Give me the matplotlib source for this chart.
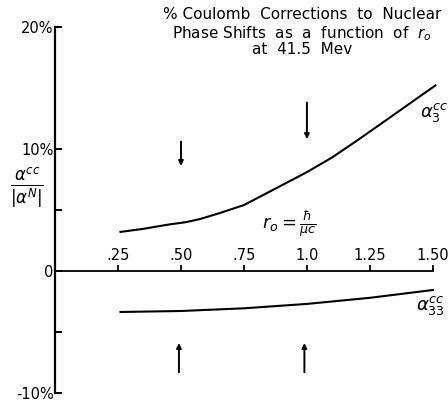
import matplotlib
matplotlib.use("Agg")
import matplotlib.pyplot as plt

# Coulomb correction curves (percent) versus r0
r0_alpha3 = [0.26, 0.35, 0.45, 0.52, 0.575, 0.655, 0.75, 0.88, 1.0, 1.1, 1.2, 1.29, 1.4, 1.51]
pct_alpha3 = [3.2, 3.45, 3.8, 4.0, 4.25, 4.75, 5.4, 6.8, 8.1, 9.3, 10.7, 12.0, 13.6, 15.2]

r0_alpha33 = [0.26, 0.5, 0.75, 1.0, 1.25, 1.5]
pct_alpha33 = [-3.36, -3.28, -3.06, -2.7, -2.2, -1.56]

x_ticks = [0.25, 0.50, 0.75, 1.0, 1.25, 1.50]
x_tick_labels = [".25", ".50", ".75", "1.0", "1.25", "1.50"]
y_ticks = [-10, 0, 10, 20]
y_tick_labels = ["-10%", "0", "10%", "20%"]
y_minor_ticks = [-5, 5]

# arrow markers: (x, tail y, head y)
down_arrows = [(0.5, 10.6, 8.6), (1.0, 13.8, 10.8)]
up_arrows = [(0.492, -8.3, -5.9), (0.99, -8.3, -5.9)]

fig = plt.figure(figsize=(4.48, 4.04), dpi=100)
ax = fig.add_axes([55 / 448, 0, 393 / 448, 1])
ax.set_xlim(0, 1.56)
ax.set_ylim(-10.9, 22.2)

ax.plot(r0_alpha3, pct_alpha3, color="black", lw=1.5)
ax.plot(r0_alpha33, pct_alpha33, color="black", lw=1.5)

# axes: vertical scale from -10% to 20%, horizontal axis along zero
for side in ("right", "bottom"):
    ax.spines[side].set_visible(False)
ax.spines["left"].set_bounds(-10, 20)
ax.spines["left"].set_linewidth(1.6)
ax.spines["top"].set_position(("data", 0))
ax.spines["top"].set_bounds(0, 1.5)
ax.spines["top"].set_linewidth(1.3)

ax.xaxis.tick_top()
ax.set_xticks(x_ticks)
ax.set_xticklabels(x_tick_labels)
ax.tick_params(axis="x", direction="out", length=4, width=1.3, pad=2, labelsize=10.5)

ax.set_yticks(y_ticks)
ax.set_yticklabels(y_tick_labels)
ax.set_yticks(y_minor_ticks, minor=True)
ax.tick_params(axis="y", which="both", direction="in", length=5, width=1.4,
               pad=1, labelsize=10.5)

for x, y0, y1 in down_arrows + up_arrows:
    ax.annotate("", xy=(x, y1), xytext=(x, y0),
                arrowprops=dict(arrowstyle="-|>", lw=1.4, color="black",
                                mutation_scale=7, shrinkA=0, shrinkB=0))

ax.text(-0.111, 6.8, r"$\frac{\alpha^{cc}}{|\alpha^{N}|}$", fontsize=17,
        ha="center", va="center")
ax.text(0.93, 3.8, r"$r_o = \frac{\hbar}{\mu c}$", fontsize=13,
        ha="center", va="center")
ax.text(1.505, 13.0, r"$\alpha_3^{cc}$", fontsize=13, ha="center", va="center")
ax.text(1.49, -2.8, r"$\alpha_{33}^{cc}$", fontsize=13, ha="center", va="center")

title_lines = ["% Coulomb  Corrections  to  Nuclear",
               r"Phase Shifts  as  a  function  of  $r_o$",
               "at  41.5  Mev"]
for line, yp in zip(title_lines, [19, 38, 54]):
    fig.text(302 / 448, 1 - yp / 404, line, fontsize=11, ha="center", va="baseline")

fig.savefig("out.png", dpi=100)
